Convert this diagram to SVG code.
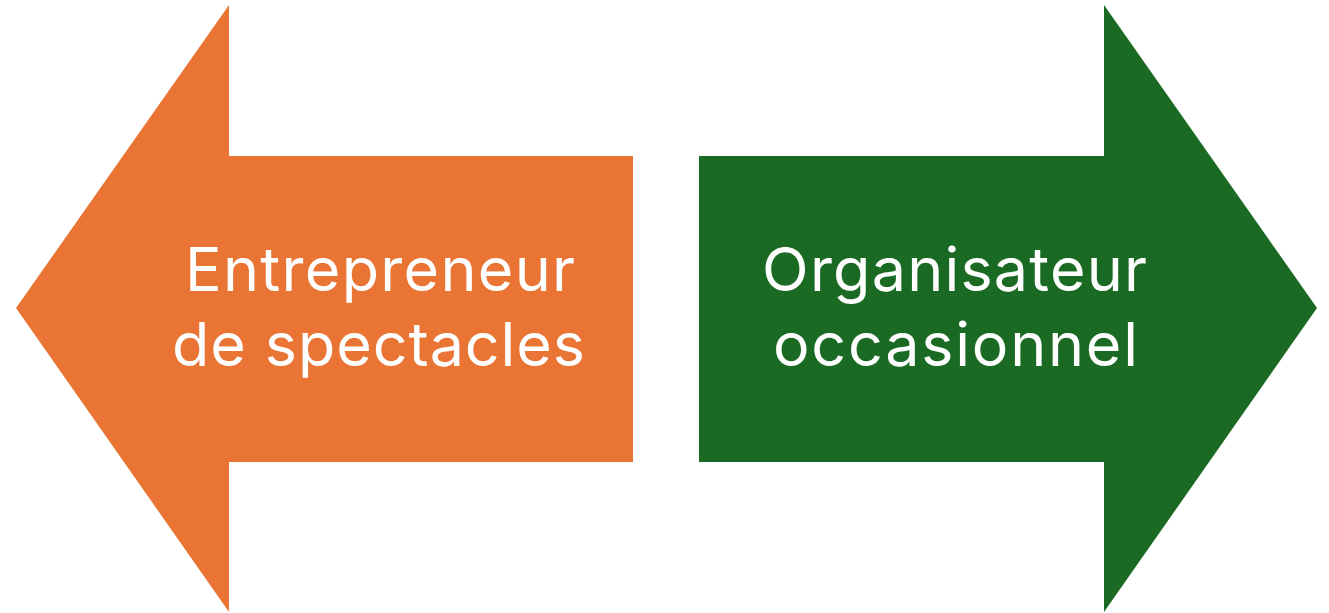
<svg xmlns="http://www.w3.org/2000/svg" width="1329" height="613" viewBox="0 0 1329 613">
<style>
.lbl{font-family:Inter,"Open Sans","Liberation Sans",sans-serif;font-size:61px;fill:#FFFFFF;text-anchor:middle}
</style>
<rect width="1329" height="613" fill="#FFFFFF"/>
<g id="node-entrepreneur">
<polygon points="16,308 229,5 229,156 633,156 633,462 229,462 229,612" fill="#E97434"/>
<text class="lbl" x="380" y="291" textLength="390" lengthAdjust="spacing">Entrepreneur</text>
<text class="lbl" x="378.5" y="366" textLength="413" lengthAdjust="spacing">de spectacles</text>
</g>
<g id="node-organisateur">
<polygon points="1317,308 1104,5 1104,156 699,156 699,462 1104,462 1104,612" fill="#1B6A24"/>
<text class="lbl" x="954.5" y="291" textLength="385" lengthAdjust="spacing">Organisateur</text>
<text class="lbl" x="955.5" y="366" textLength="365" lengthAdjust="spacing">occasionnel</text>
</g>
<g id="connectors"></g>
</svg>
